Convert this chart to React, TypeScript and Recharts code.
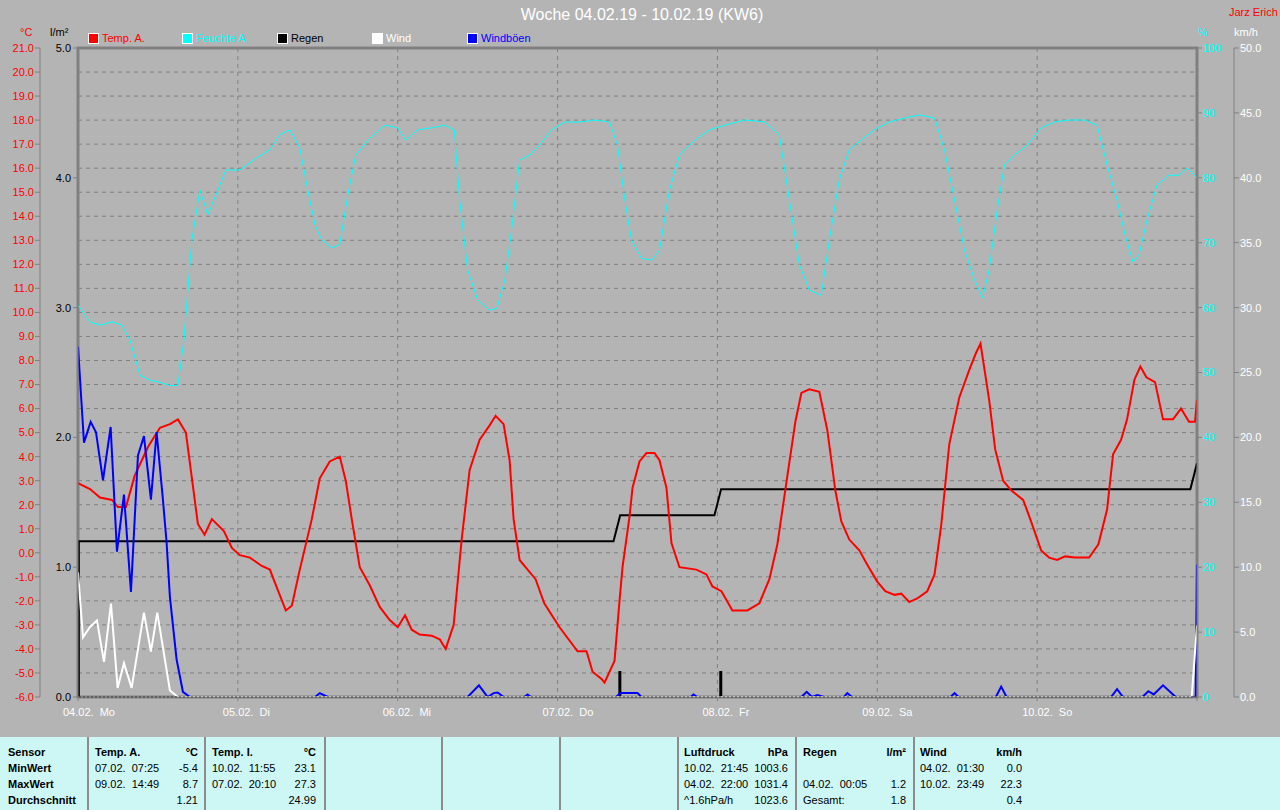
import { ComposedChart, Line, XAxis, YAxis, CartesianGrid, ReferenceArea, ReferenceLine } from "recharts";

const FONT = "'Liberation Sans', Arial, sans-serif";

// x values are hours since 04.02. 00:00
const dayTicks = [0, 24, 48, 72, 96, 120, 144, 168];
const dayLabels = ["04.02.  Mo", "05.02.  Di", "06.02.  Mi", "07.02.  Do", "08.02.  Fr", "09.02.  Sa", "10.02.  So", ""];

const tempTicks = [-6, -5, -4, -3, -2, -1, 0, 1, 2, 3, 4, 5, 6, 7, 8, 9, 10, 11, 12, 13, 14, 15, 16, 17, 18, 19, 20, 21];
const rainTicks = [0, 1, 2, 3, 4, 5];
const humTicks = [0, 10, 20, 30, 40, 50, 60, 70, 80, 90, 100];
const windTicks = [0, 5, 10, 15, 20, 25, 30, 35, 40, 45, 50];

// Temp. A. (°C)
const tempPoints = [
  [0, 2.9], [1.8, 2.65], [3.3, 2.3], [5.1, 2.2], [6, 1.9], [7.2, 1.9], [8.5, 3.2], [10.5, 4.4], [12.3, 5.2],
  [13.8, 5.35], [15, 5.55], [16.2, 5.0], [18, 1.2], [19, 0.75], [20.1, 1.4], [21.9, 0.9], [23.1, 0.2],
  [24.3, -0.1], [25.8, -0.2], [27.6, -0.55], [28.8, -0.7], [30, -1.55], [31.2, -2.4], [32.1, -2.2],
  [33.3, -0.7], [35.1, 1.4], [36.3, 3.1], [37.8, 3.8], [39.3, 4.0], [40.2, 3.0], [41.1, 1.4], [42.3, -0.6],
  [43.8, -1.35], [45.3, -2.25], [46.8, -2.8], [48, -3.1], [49.1, -2.6], [50.1, -3.2], [51.3, -3.4],
  [53.1, -3.45], [54.3, -3.6], [55.2, -4.0], [56.4, -3.0], [57.6, 0.55], [58.8, 3.45], [60.3, 4.7],
  [61.8, 5.3], [62.7, 5.7], [63.9, 5.35], [64.8, 3.85], [65.4, 1.4], [66.3, -0.3], [67.5, -0.7],
  [68.7, -1.1], [70, -2.1], [71.6, -2.8], [72.3, -3.1], [75, -4.1], [76.35, -4.1], [77.25, -4.95],
  [78.6, -5.25], [79.05, -5.4], [80.55, -4.5], [81.3, -2.0], [81.75, -0.6], [82.8, 1.5], [83.25, 2.7],
  [84.3, 3.8], [85.35, 4.15], [86.55, 4.15], [87.3, 3.85], [88.35, 2.7], [89.1, 0.4], [90.3, -0.6],
  [92.85, -0.7], [94.35, -0.9], [95.25, -1.4], [96.6, -1.6], [98.25, -2.4], [100.5, -2.4], [102.3, -2.1],
  [103.8, -1.1], [105, 0.35], [106.5, 3.2], [107.7, 5.45], [108.6, 6.65], [109.8, 6.8],
  [111.3, 6.7], [112.5, 5.1], [113.7, 2.6], [114.6, 1.3], [115.8, 0.55], [117.3, 0.1], [118.5, -0.5],
  [120, -1.2], [121.2, -1.6], [122.6, -1.75], [123.6, -1.7], [124.8, -2.05], [126, -1.9], [127.5, -1.6],
  [128.6, -0.9], [129.6, 1.15], [130.8, 4.5], [132.3, 6.45], [133.8, 7.6], [134.8, 8.3], [135.5, 8.7],
  [136.8, 6.35], [137.7, 4.3], [138.9, 3.0], [140.1, 2.6], [141.9, 2.2], [143.1, 1.3], [144.6, 0.1],
  [145.8, -0.2], [147, -0.3], [148.2, -0.15], [149.7, -0.2], [151.8, -0.2], [153.2, 0.35], [154.5, 1.8],
  [155.4, 4.1], [156.6, 4.7], [157.5, 5.55], [158.6, 7.2], [159.5, 7.75], [160.4, 7.3], [161.7, 7.1],
  [162.9, 5.55], [164.4, 5.55], [165.6, 6.0], [166.8, 5.45], [167.7, 5.45], [168, 6.35],
];

// Feuchte A. (%)
const humPoints = [
  [0, 60.4], [1.8, 57.8], [3.3, 57.3], [5.1, 57.8], [6.6, 57.3], [7.8, 55], [9.3, 49.6], [10.8, 48.8],
  [12.3, 48.5], [13.8, 48], [15, 48], [15.9, 55], [17.1, 70.4], [18.3, 78.1], [19.5, 74.3], [21, 78.1],
  [22.2, 81.2], [24.3, 81.2], [26.7, 83], [28.8, 84.3], [30.3, 86.6], [31.8, 87.4], [33.3, 84.6],
  [34.5, 78.1], [35.6, 72.7], [36.6, 70.4], [38.1, 69.2], [39.3, 69.7], [40.5, 77.3], [41.7, 83.5],
  [43.8, 86.1], [46.1, 88.1], [48, 87.7], [49.2, 85.8], [51, 87.4], [53.1, 87.7], [55, 88.1], [56.5, 87.4],
  [57.3, 76.6], [58.5, 65.8], [60, 61.2], [61.8, 59.6], [62.9, 59.9], [64.1, 64.3], [65.1, 72],
  [66.3, 82.7], [67.8, 83.5], [69.3, 85], [71.1, 87.4], [73.1, 88.6], [75.3, 88.6], [77.6, 88.9],
  [79.8, 88.6], [81, 85], [82.1, 76.6], [83.1, 70.4], [84.6, 67.6], [86.1, 67.3], [87.3, 68.8],
  [88.8, 78.1], [90.3, 83.5], [92.6, 85.8], [94.8, 87.4], [97.1, 88.1], [100.1, 88.9], [103.1, 88.6],
  [105.3, 86.6], [106.8, 76.6], [108.3, 66.6], [109.8, 62.7], [111.6, 61.9], [112.8, 70.4], [114.3, 79.7],
  [115.8, 84.3], [117.6, 85.8], [119.6, 87.4], [121.8, 88.6], [124.1, 89.2], [126.3, 89.7], [128.6, 89.2],
  [130.1, 84.3], [131.6, 76.6], [133.1, 68.8], [134.6, 64.3], [135.8, 61.5], [136.8, 65.8], [138, 75],
  [139.1, 82], [140.6, 83.5], [142.5, 85], [144.6, 87.7], [146.6, 88.6], [148.8, 88.9], [151.1, 88.9],
  [153, 88.1], [154.5, 82], [156, 76.6], [157.2, 71.2], [158.4, 67], [159.3, 68.1], [160.5, 73.5],
  [162, 78.9], [163.8, 80.4], [165.3, 80.4], [166.5, 81.5], [168, 80],
];

// Regen, cumulative (l/m²)
const rainSumPoints = [
  [0, 1.2], [80.4, 1.2], [81.4, 1.4], [95.55, 1.4], [96.55, 1.6], [167, 1.6], [168, 1.8],
];

// Regen per interval (l/m²): [hour, amount]
const rainBarPoints = [
  [0.05, 1.2], [81.35, 0.2], [96.5, 0.2],
];

// Wind (km/h)
const windPoints = [
  [0, 9.6], [0.75, 4.6], [1.8, 5.4], [2.85, 5.9], [3.9, 2.7], [4.95, 7.2], [5.95, 0.7], [6.9, 2.6],
  [8.05, 0.7], [9.9, 6.5], [10.95, 3.5], [11.9, 6.5], [13.8, 0.5], [15, 0], [167.2, 0], [168, 5.5],
];

// Windböen (km/h)
const gustPoints = [
  [0, 27], [0.9, 19.6], [1.9, 21.2], [2.7, 20.4], [3.75, 16.7], [4.9, 20.8], [5.85, 11.2], [6.9, 15.6],
  [7.95, 8.1], [9, 18.6], [9.9, 20.1], [10.95, 15.2], [11.8, 20.4], [12.75, 15.2], [13.3, 11.9],
  [13.8, 7.7], [14.8, 2.9], [15.75, 0.4], [16.8, 0], [35.6, 0], [36.3, 0.3], [37.5, 0], [58.5, 0],
  [60.2, 0.9], [61.5, 0], [62.4, 0.3], [63, 0.35], [63.9, 0], [67, 0], [67.5, 0.2], [68, 0], [80.8, 0],
  [81.4, 0.3], [84, 0.3], [84.6, 0], [92, 0], [92.4, 0.2], [93, 0], [108.6, 0], [109.4, 0.4], [110.2, 0],
  [111, 0.15], [112, 0], [115, 0], [115.5, 0.3], [116.2, 0], [131, 0], [131.6, 0.3], [132.2, 0],
  [137.8, 0], [138.6, 0.8], [139.4, 0], [155.1, 0], [156, 0.6], [156.9, 0], [159.8, 0], [160.7, 0.45],
  [161.5, 0.2], [162.9, 0.9], [164.8, 0], [167.8, 0], [168, 10.2],
];

const toData = (pts: number[][]) => pts.map(([h, v]) => ({ h, v }));

const legendItems = [
  { name: "Temp. A.", color: "#ff0000", x: 88 },
  { name: "Feuchte A.", color: "#00ffff", x: 182 },
  { name: "Regen", color: "#000000", x: 277 },
  { name: "Wind", color: "#ffffff", x: 372 },
  { name: "Windböen", color: "#0000ff", x: 467 },
];

const tableCols = [
  { left: 95, right: 198, head: ["Temp. A.", "°C"], rows: [["07.02.  07:25", "-5.4"], ["09.02.  14:49", "8.7"], ["", "1.21"]] },
  { left: 212, right: 316, head: ["Temp. I.", "°C"], rows: [["10.02.  11:55", "23.1"], ["07.02.  20:10", "27.3"], ["", "24.99"]] },
  { left: 684, right: 788, head: ["Luftdruck", "hPa"], rows: [["10.02.  21:45", "1003.6"], ["04.02.  22:00", "1031.4"], ["^1.6hPa/h", "1023.6"]] },
  { left: 803, right: 906, head: ["Regen", "l/m²"], rows: [["", ""], ["04.02.  00:05", "1.2"], ["Gesamt:", "1.8"]] },
  { left: 920, right: 1022, head: ["Wind", "km/h"], rows: [["04.02.  01:30", "0.0"], ["10.02.  23:49", "22.3"], ["", "0.4"]] },
];
const rowLabels = ["Sensor", "MinWert", "MaxWert", "Durchschnitt"];
const separators = [88, 205, 325, 442, 560, 678, 796, 914];

function DayTick(props: any) {
  const { x, y, payload } = props;
  const label = dayLabels[dayTicks.indexOf(payload.value)] ?? "";
  return (
    <text x={x - 15} y={y} dy={9} fill="#ffffff" fontSize={11} fontFamily={FONT} style={{ whiteSpace: "pre" }}>
      {label}
    </text>
  );
}

const abs = (left: number, top: number, extra: any = {}) => ({
  position: "absolute" as const,
  left,
  top,
  fontFamily: FONT,
  fontSize: 11,
  lineHeight: "12px",
  whiteSpace: "pre" as const,
  ...extra,
});

export default function App() {
  return (
    <div style={{ position: "absolute", left: 0, top: 0, width: 1280, height: 810, background: "#b4b4b4", overflow: "hidden" }}>
      <ComposedChart width={1280} height={735} margin={{ top: 48, right: 0, bottom: 0, left: 0 }}>
        <CartesianGrid yAxisId="temp" stroke="#808080" strokeDasharray="4 4" />
        <XAxis
          dataKey="h"
          type="number"
          domain={[0, 168]}
          ticks={dayTicks}
          interval={0}
          allowDataOverflow
          height={38}
          stroke="#808080"
          tickSize={4}
          tickMargin={6}
          tick={<DayTick />}
        />
        <YAxis
          yAxisId="rain"
          orientation="left"
          width={38}
          domain={[0, 5]}
          ticks={rainTicks}
          allowDataOverflow
          stroke="#808080"
          tickSize={5}
          tickMargin={2}
          tickFormatter={(v: number) => v.toFixed(1)}
          tick={{ fill: "#000000", fontSize: 11, fontFamily: FONT }}
        />
        <YAxis
          yAxisId="temp"
          orientation="left"
          width={40}
          domain={[-6, 21]}
          ticks={tempTicks}
          interval={0}
          allowDataOverflow
          stroke="#808080"
          tickSize={5}
          tickMargin={1}
          tickFormatter={(v: number) => v.toFixed(1)}
          tick={{ fill: "#ff0000", fontSize: 11, fontFamily: FONT }}
        />
        <YAxis
          yAxisId="hum"
          orientation="right"
          width={37}
          domain={[0, 100]}
          ticks={humTicks}
          interval={0}
          allowDataOverflow
          stroke="#808080"
          tickSize={5}
          tickMargin={1}
          tick={{ fill: "#00ffff", fontSize: 11, fontFamily: FONT }}
        />
        <YAxis
          yAxisId="wind"
          orientation="right"
          width={46}
          domain={[0, 50]}
          ticks={windTicks}
          interval={0}
          allowDataOverflow
          stroke="#808080"
          tickSize={5}
          tickMargin={1}
          tickFormatter={(v: number) => v.toFixed(1)}
          tick={{ fill: "#ffffff", fontSize: 11, fontFamily: FONT }}
        />
        <ReferenceArea yAxisId="temp" x1={0} x2={168} y1={-6} y2={21} fill="none" stroke="#808080" strokeWidth={3} ifOverflow="visible" />
        <Line yAxisId="hum" data={toData(humPoints)} dataKey="v" type="linear" stroke="#00ffff" strokeWidth={1} dot={false} isAnimationActive={false} />
        {rainBarPoints.map(([h, v]) => (
          <Line
            key={h}
            yAxisId="rain"
            data={[{ h, v: 0 }, { h, v }]}
            dataKey="v"
            type="linear"
            stroke="#000000"
            strokeWidth={3}
            strokeLinecap="butt"
            dot={false}
            isAnimationActive={false}
          />
        ))}
        <Line yAxisId="rain" data={toData(rainSumPoints)} dataKey="v" type="linear" stroke="#000000" strokeWidth={2} dot={false} isAnimationActive={false} />
        <Line yAxisId="temp" data={toData(tempPoints)} dataKey="v" type="linear" stroke="#ff0000" strokeWidth={2} dot={false} isAnimationActive={false} />
        <Line yAxisId="wind" data={toData(gustPoints)} dataKey="v" type="linear" stroke="#0000ff" strokeWidth={2} dot={false} isAnimationActive={false} />
        <Line yAxisId="wind" data={toData(windPoints)} dataKey="v" type="linear" stroke="#ffffff" strokeWidth={2} dot={false} isAnimationActive={false} />
        <ReferenceLine yAxisId="wind" y={0} stroke="#000000" strokeWidth={1} strokeDasharray="2 2" />
      </ComposedChart>

      {/* title, author, units */}
      <div style={abs(0, 6, { width: 1284, textAlign: "center", fontSize: 16, lineHeight: "18px", color: "#ffffff" })}>
        Woche 04.02.19 - 10.02.19 (KW6)
      </div>
      <div style={abs(1229, 6, { color: "#ff0000" })}>Jarz Erich</div>
      <div style={abs(20, 26, { color: "#ff0000" })}>°C</div>
      <div style={abs(50, 26, { color: "#000000" })}>l/m²</div>
      <div style={abs(1198, 26, { color: "#00ffff" })}>%</div>
      <div style={abs(1234, 26, { color: "#ffffff" })}>km/h</div>

      {/* legend */}
      {legendItems.map((it) => (
        <div key={it.name}>
          <div style={{ position: "absolute", left: it.x, top: 33, width: 9, height: 9, background: it.color, border: "1px solid #ffffff" }} />
          <div style={abs(it.x + 14, 32, { color: it.color })}>{it.name}</div>
        </div>
      ))}

      {/* statistics table */}
      <div style={{ position: "absolute", left: 0, top: 737, width: 1280, height: 73, background: "#ccf7f5" }}>
        {separators.map((x) => (
          <div key={x} style={{ position: "absolute", left: x - 1, top: 0, width: 2, height: 73, background: "#8c8c8c" }} />
        ))}
        {rowLabels.map((r, i) => (
          <div key={r} style={abs(8, 9 + i * 16, { fontWeight: "bold", color: "#000" })}>{r}</div>
        ))}
        {tableCols.map((c) => (
          <div key={c.head[0]}>
            <div style={abs(c.left, 9, { fontWeight: "bold", color: "#000" })}>{c.head[0]}</div>
            <div style={abs(0, 9, { left: undefined, right: 1280 - c.right, fontWeight: "bold", color: "#000" })}>{c.head[1]}</div>
            {c.rows.map((row, i) => (
              <div key={i}>
                <div style={abs(c.left, 25 + i * 16, { color: "#000" })}>{row[0]}</div>
                <div style={abs(0, 25 + i * 16, { left: undefined, right: 1280 - c.right, color: "#000" })}>{row[1]}</div>
              </div>
            ))}
          </div>
        ))}
      </div>
    </div>
  );
}
